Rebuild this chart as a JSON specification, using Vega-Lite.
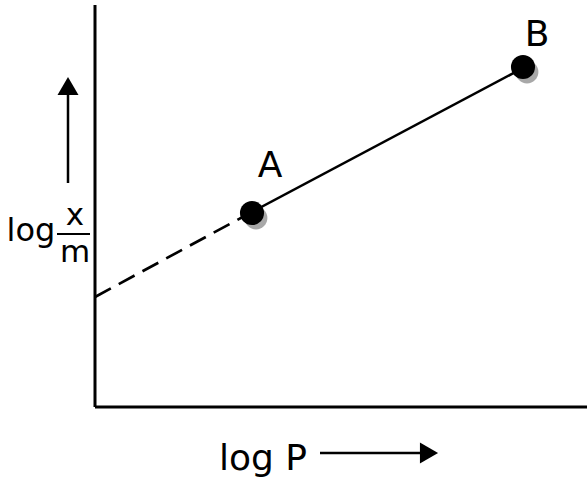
{
  "$schema": "https://vega.github.io/schema/vega-lite/v6.json",
  "width": 587,
  "height": 483,
  "autosize": "none",
  "padding": 0,
  "background": "white",
  "config": {"view": {"stroke": null}},
  "layer": [
    {
      "data": {"values": [
        {"x": 0, "y": 0, "x2": 0, "y2": 402},
        {"x": 0, "y": 0, "x2": 492, "y2": 0}
      ]},
      "mark": {"type": "rule", "strokeWidth": 3, "color": "black", "clip": false},
      "encoding": {
        "x": {"field": "x", "type": "quantitative", "scale": {"domain": [-95, 492], "nice": false, "zero": false}, "axis": null},
        "y": {"field": "y", "type": "quantitative", "scale": {"domain": [-76, 407], "nice": false, "zero": false}, "axis": null},
        "x2": {"field": "x2"},
        "y2": {"field": "y2"}
      }
    },
    {
      "data": {"values": [
        {"x": 0, "y": 110, "x2": 155, "y2": 194}
      ]},
      "mark": {"type": "rule", "strokeWidth": 2.7, "color": "black", "strokeDash": [18, 9]},
      "encoding": {
        "x": {"field": "x", "type": "quantitative"},
        "y": {"field": "y", "type": "quantitative"},
        "x2": {"field": "x2"},
        "y2": {"field": "y2"}
      }
    },
    {
      "data": {"values": [
        {"x": 155, "y": 194, "x2": 428, "y2": 339}
      ]},
      "mark": {"type": "rule", "strokeWidth": 2.5, "color": "black"},
      "encoding": {
        "x": {"field": "x", "type": "quantitative"},
        "y": {"field": "y", "type": "quantitative"},
        "x2": {"field": "x2"},
        "y2": {"field": "y2"}
      }
    },
    {
      "data": {"values": [
        {"x": 161, "y": 189},
        {"x": 432, "y": 335}
      ]},
      "mark": {"type": "point", "filled": true, "color": "#a8a8a8", "size": 520, "opacity": 1},
      "encoding": {
        "x": {"field": "x", "type": "quantitative"},
        "y": {"field": "y", "type": "quantitative"}
      }
    },
    {
      "data": {"values": [
        {"x": 157, "y": 194, "label": "A"},
        {"x": 428, "y": 340, "label": "B"}
      ]},
      "mark": {"type": "point", "filled": true, "color": "black", "size": 580, "opacity": 1},
      "encoding": {
        "x": {"field": "x", "type": "quantitative"},
        "y": {"field": "y", "type": "quantitative"}
      }
    },
    {
      "data": {"values": [
        {"x": 175, "y": 230, "label": "A"},
        {"x": 442, "y": 361, "label": "B"}
      ]},
      "mark": {"type": "text", "font": "DejaVu Sans", "fontSize": 36, "color": "black", "baseline": "alphabetic", "align": "center"},
      "encoding": {
        "x": {"field": "x", "type": "quantitative"},
        "y": {"field": "y", "type": "quantitative"},
        "text": {"field": "label"}
      }
    },
    {
      "data": {"values": [
        {"x": -64, "y": 166, "label": "log"}
      ]},
      "mark": {"type": "text", "font": "DejaVu Sans", "fontSize": 32, "color": "black", "baseline": "alphabetic", "align": "center", "clip": false},
      "encoding": {
        "x": {"field": "x", "type": "quantitative"},
        "y": {"field": "y", "type": "quantitative"},
        "text": {"field": "label"}
      }
    },
    {
      "data": {"values": [
        {"x": -20, "y": 182, "label": "x"},
        {"x": -20, "y": 145, "label": "m"}
      ]},
      "mark": {"type": "text", "font": "DejaVu Sans", "fontSize": 31, "color": "black", "baseline": "alphabetic", "align": "center", "clip": false},
      "encoding": {
        "x": {"field": "x", "type": "quantitative"},
        "y": {"field": "y", "type": "quantitative"},
        "text": {"field": "label"}
      }
    },
    {
      "data": {"values": [
        {"x": -38, "y": 173, "x2": -5, "y2": 173}
      ]},
      "mark": {"type": "rule", "strokeWidth": 2, "color": "black", "clip": false},
      "encoding": {
        "x": {"field": "x", "type": "quantitative"},
        "y": {"field": "y", "type": "quantitative"},
        "x2": {"field": "x2"},
        "y2": {"field": "y2"}
      }
    },
    {
      "data": {"values": [
        {"x": -27, "y": 224, "x2": -27, "y2": 312},
        {"x": 225, "y": -46, "x2": 325, "y2": -46}
      ]},
      "mark": {"type": "rule", "strokeWidth": 2.5, "color": "black", "clip": false},
      "encoding": {
        "x": {"field": "x", "type": "quantitative"},
        "y": {"field": "y", "type": "quantitative"},
        "x2": {"field": "x2"},
        "y2": {"field": "y2"}
      }
    },
    {
      "data": {"values": [
        {"x": -27, "y": 321, "shape": "triangle-up"},
        {"x": 334, "y": -46, "shape": "triangle-right"}
      ]},
      "mark": {"type": "point", "filled": true, "color": "black", "size": 440, "opacity": 1, "clip": false},
      "encoding": {
        "x": {"field": "x", "type": "quantitative"},
        "y": {"field": "y", "type": "quantitative"},
        "shape": {"field": "shape", "type": "nominal", "scale": null}
      }
    },
    {
      "data": {"values": [
        {"x": 168, "y": -63, "label": "log P"}
      ]},
      "mark": {"type": "text", "font": "DejaVu Sans", "fontSize": 36, "color": "black", "baseline": "alphabetic", "align": "center", "clip": false},
      "encoding": {
        "x": {"field": "x", "type": "quantitative"},
        "y": {"field": "y", "type": "quantitative"},
        "text": {"field": "label"}
      }
    }
  ]
}
